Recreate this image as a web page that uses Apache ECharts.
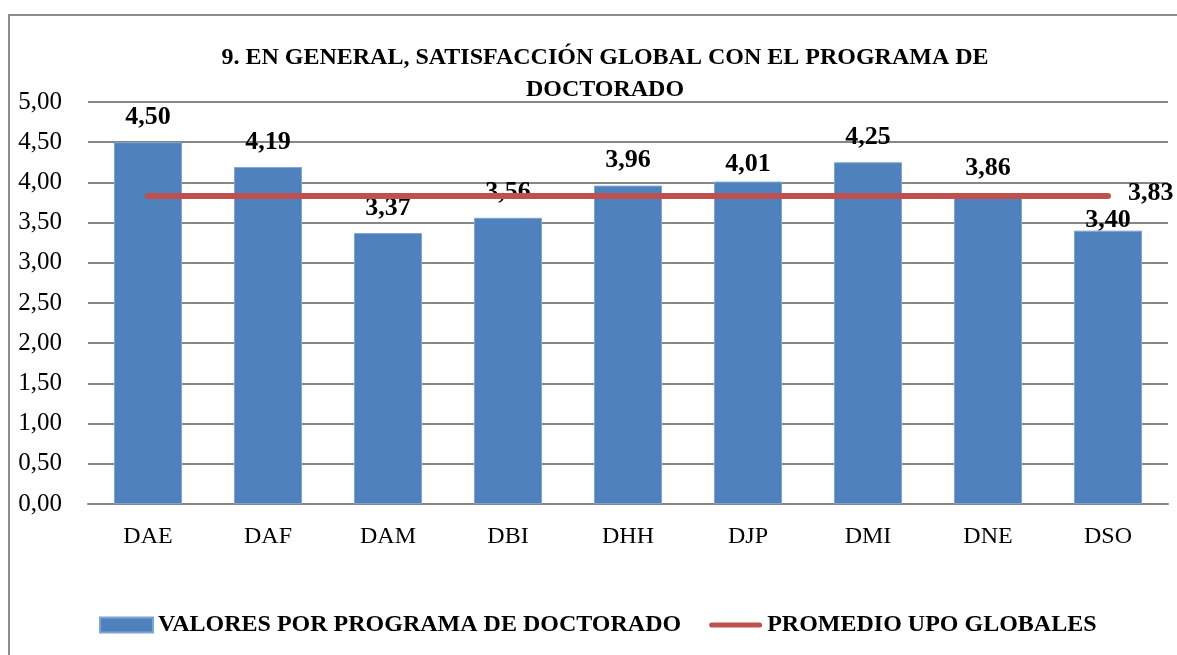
<!DOCTYPE html>
<html>
<head>
<meta charset="utf-8">
<script src="https://cdn.jsdelivr.net/npm/echarts@6/dist/echarts.min.js"></script>
<style>
  html, body { margin: 0; padding: 0; background: #fff; }
  #chart { width: 1177px; height: 655px; }
</style>
</head>
<body>
<div id="chart"></div>
<script>
// datos del gráfico
var categorias = ["DAE", "DAF", "DAM", "DBI", "DHH", "DJP", "DMI", "DNE", "DSO"];
var valores = [4.50, 4.19, 3.37, 3.56, 3.96, 4.01, 4.25, 3.86, 3.40];
var promedio = [3.83, 3.83, 3.83, 3.83, 3.83, 3.83, 3.83, 3.83, 3.83];
var nombreBarras = "VALORES POR PROGRAMA DE DOCTORADO";
var nombreLinea = "PROMEDIO UPO GLOBALES";
var titulo = "9. EN GENERAL, SATISFACCIÓN GLOBAL CON EL PROGRAMA DE\nDOCTORADO";

// algunas etiquetas estaban movidas a mano en el original
var ajusteEtiqueta = { DJP: 8, DSO: 15 };

var fuente = "'Liberation Serif', 'DejaVu Serif', serif";
var coma = function (v) { return v.toFixed(2).replace(".", ","); };

// icono de leyenda: banda de 5px dentro de una caja de 53x15
var iconoLinea = "path://M0,0 L1,0 Z M0,15 L1,15 Z M2.5,5 L50.5,5 A2.5,2.5 0 0 1 50.5,10 L2.5,10 A2.5,2.5 0 0 1 2.5,5 Z M52,15 L53,15 Z M52,0 L53,0 Z";

var chart = echarts.init(document.getElementById("chart"));

var option = {
  animation: false,
  textStyle: { fontFamily: fuente, color: "#000" },
  graphic: [{
    type: "rect",
    shape: { x: 9, y: 15, width: 1300, height: 800 },
    style: { fill: "none", stroke: "#8c8c8c", lineWidth: 2 },
    silent: true
  }],
  title: {
    text: titulo,
    left: 600,
    top: 37,
    textAlign: "center",
    textStyle: { fontFamily: fuente, fontWeight: "bold", fontSize: 24, lineHeight: 32, color: "#000" }
  },
  grid: { left: 88, right: 9, top: 102, bottom: 151 },
  legend: {
    left: 94,
    top: 608,
    itemGap: 28,
    itemWidth: 53,
    itemHeight: 15,
    textStyle: { fontFamily: fuente, fontWeight: "bold", fontSize: 24, color: "#000" },
    data: [
      { name: nombreBarras, icon: "rect" },
      { name: nombreLinea, icon: iconoLinea }
    ]
  },
  xAxis: {
    type: "category",
    data: categorias,
    axisTick: { show: false },
    axisLine: { lineStyle: { color: "#868686", width: 2 } },
    axisLabel: { fontFamily: fuente, fontSize: 24, color: "#000", margin: 21 }
  },
  yAxis: {
    type: "value",
    min: 0,
    max: 5,
    interval: 0.5,
    axisLine: { show: false },
    axisTick: { show: false },
    splitLine: { lineStyle: { color: "#868686", width: 2 } },
    axisLabel: { fontFamily: fuente, fontSize: 25, color: "#000", margin: 26, formatter: coma }
  },
  series: [
    {
      name: nombreBarras,
      type: "bar",
      barWidth: 68,
      itemStyle: { color: "#4F81BD", borderColor: "#7fa4d3", borderWidth: 1 },
      label: {
        show: true,
        position: "top",
        distance: 12,
        fontFamily: fuente,
        fontWeight: "bold",
        fontSize: 26,
        color: "#000",
        formatter: function (p) { return coma(p.value); }
      },
      data: valores.map(function (v, i) {
        var d = { value: v };
        var s = ajusteEtiqueta[categorias[i]];
        if (s) d.label = { offset: [0, s] };
        return d;
      }),
      z: 2
    },
    {
      name: nombreLinea,
      type: "line",
      symbol: "none",
      lineStyle: { color: "#C0504D", width: 6, cap: "round" },
      itemStyle: { color: "#C0504D" },
      endLabel: {
        show: true,
        distance: 20,
        offset: [0, -3],
        fontFamily: fuente,
        fontWeight: "bold",
        fontSize: 26,
        color: "#000",
        formatter: function (p) { return coma(p.value); }
      },
      data: promedio,
      z: 3
    }
  ]
};

chart.setOption(option);
</script>
</body>
</html>
